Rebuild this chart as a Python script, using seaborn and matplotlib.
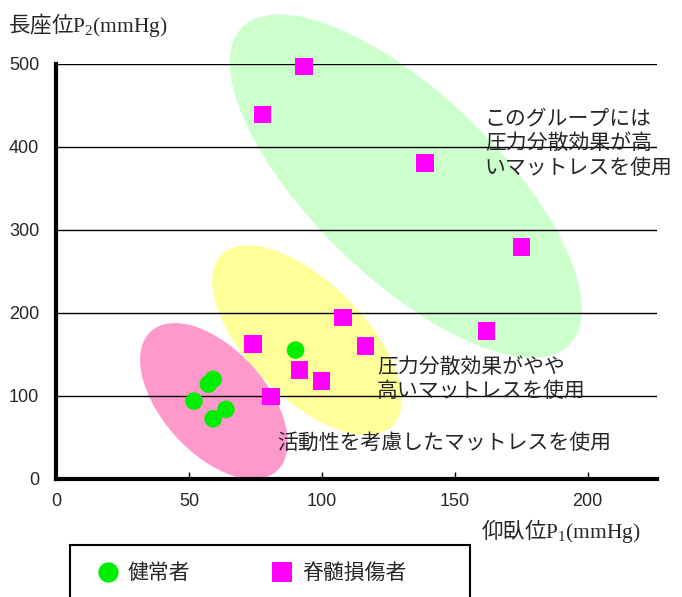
import matplotlib
matplotlib.use("Agg")
import matplotlib.pyplot as plt
import matplotlib.transforms as mtransforms
from matplotlib.patches import Ellipse, Rectangle
import seaborn as sns
import pandas as pd

# data
healthy_x = [51.9, 57.3, 59.1, 63.9, 59.1, 90.1]
healthy_y = [93.6, 114.0, 119.8, 83.6, 72.3, 155.0]
sci_x = [74.2, 108.0, 116.4, 91.6, 99.9, 80.8, 93.2, 77.6, 138.7, 175.1, 161.9]
sci_y = [162.7, 194.5, 160.0, 131.0, 117.7, 99.3, 496.6, 438.6, 380.4, 279.5, 178.3]
groups = ["健常者", "脊髄損傷者"]
x_ticks = [0, 50, 100, 150, 200]
y_ticks = [0, 100, 200, 300, 400, 500]

df = pd.DataFrame({
    "x": healthy_x + sci_x,
    "y": healthy_y + sci_y,
    "group": [groups[0]] * len(healthy_x) + [groups[1]] * len(sci_x),
})

sns.set_theme(style="white")
plt.rcParams["font.family"] = ["Noto Sans CJK JP", "DejaVu Sans"]
plt.rcParams["mathtext.fontset"] = "custom"
plt.rcParams["mathtext.rm"] = "Liberation Serif"
plt.rcParams["mathtext.it"] = "Liberation Serif:italic"

fig = plt.figure(figsize=(6.82, 5.97), dpi=100)
ax = fig.add_axes([0.0821, 0.198, 0.881, 0.6953])

# group ellipses: centre in data units, size in pixels, angle in degrees
ellipses = [
    ((131.6, 352.6), 456, 184, -44, "#ccffcc"),
    ((94.4, 167.0), 242, 116, -45, "#ffff99"),
    ((59.4, 93.6), 188, 104, -48, "#ff99cc"),
]
for (cx, cy), w, h, ang, col in ellipses:
    tr = fig.dpi_scale_trans + mtransforms.ScaledTranslation(cx, cy, ax.transData)
    e = Ellipse((0, 0), w / 100, h / 100, angle=ang, transform=tr,
                facecolor=col, edgecolor="none", zorder=0.2, clip_on=False)
    ax.add_patch(e)

sns.scatterplot(data=df, x="x", y="y", hue="group", style="group",
                markers={groups[0]: "o", groups[1]: "s"},
                palette={groups[0]: "#00ee00", groups[1]: "#ff00ff"},
                s=160, edgecolor="none", linewidth=0, ax=ax, zorder=3,
                clip_on=False)

ax.set_xlim(0, 226)
ax.set_ylim(0, 500)
ax.set_xticks(x_ticks)
ax.set_yticks(y_ticks)
ax.set_axisbelow(True)
ax.yaxis.grid(True, color="black", linewidth=1)
ax.xaxis.grid(False)

for side in ["top", "right"]:
    ax.spines[side].set_visible(False)
for side in ["left", "bottom"]:
    ax.spines[side].set_linewidth(3)
    ax.spines[side].set_color("black")

ax.tick_params(axis="x", direction="in", length=5, width=1, color="black",
               bottom=True, pad=10, labelsize=13,
               labelfontfamily="Liberation Sans")
ax.tick_params(axis="y", length=0, pad=12, labelsize=13,
               labelfontfamily="Liberation Sans")

ax.set_xlabel("")
ax.set_ylabel("")
fig.text(8 / 682, 1 - 25 / 597, "長座位$\\mathrm{P_2(mmHg)}$", fontsize=15.5,
         ha="left", va="center")
fig.text(641 / 682, 1 - 531 / 597, "仰臥位$\\mathrm{P_1(mmHg)}$", fontsize=15.5,
         ha="right", va="center")

ax.text(161.3, 404.5, "このグループには\n圧力分散効果が高\nいマットレスを使用",
        fontsize=15, ha="left", va="center", linespacing=1.15, zorder=4)
ax.text(120.7, 120.5, "圧力分散効果がやや\n高いマットレスを使用",
        fontsize=15, ha="left", va="center", linespacing=1.1, zorder=4)
ax.text(83.1, 43, "活動性を考慮したマットレスを使用",
        fontsize=15, ha="left", va="center", zorder=4)

# legend box (runs off the bottom edge like the reference)
fig.add_artist(Rectangle((70 / 682, -0.05), 400 / 682, 0.05 + 52 / 597,
                         transform=fig.transFigure, facecolor="white",
                         edgecolor="black", linewidth=1.5, clip_on=False,
                         zorder=-1))

handles, labels = ax.get_legend_handles_labels()
leg = ax.legend(handles, labels, loc="center left", ncol=2,
                bbox_to_anchor=(93.4 / 682, 1 - 573 / 597),
                bbox_transform=fig.transFigure,
                frameon=False, fontsize=15, markerscale=1.15, borderpad=0,
                handletextpad=0.26, columnspacing=3.69, handlelength=1.4,
                borderaxespad=0)

fig.savefig("out.png", dpi=100)
